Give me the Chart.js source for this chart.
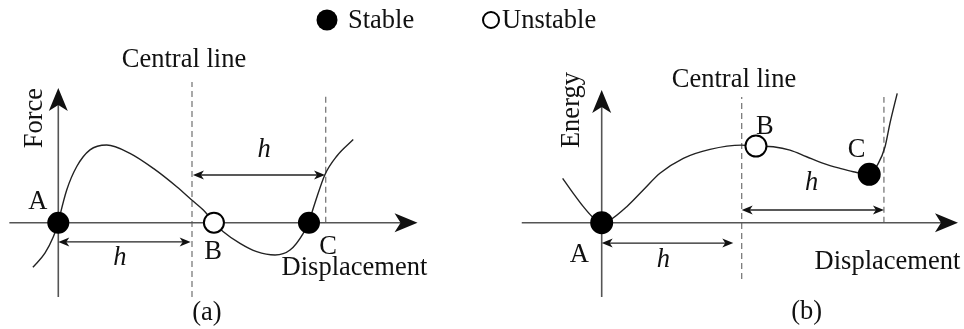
<!DOCTYPE html>
<html>
<head>
<meta charset="utf-8">
<script src="https://cdn.jsdelivr.net/npm/chart.js@4/dist/chart.umd.min.js"></script>
<style>
  html, body { margin: 0; padding: 0; background: #ffffff; }
  #wrap { position: relative; width: 964px; height: 329px; }
  canvas { display: block; }
</style>
</head>
<body>
<div id="wrap"><canvas id="c" width="964" height="329"></canvas></div>
<script>
// ---------- data (displacement in units of h) ----------
// (a) Force vs displacement
const forceX = [-0.19, -0.10, -0.037, 0, 0.013, 0.063, 0.138, 0.237, 0.362, 0.536, 0.711, 0.886, 0.998, 1.097, 1.164, 1.234, 1.359, 1.484, 1.621, 1.733, 1.832, 1.875, 1.919, 1.994, 2.082, 2.206];
const forceY = [-0.574, -0.392, -0.181, 0, 0.099, 0.421, 0.723, 0.937, 1.0, 0.893, 0.699, 0.463, 0.292, 0.141, 0, -0.116, -0.266, -0.373, -0.416, -0.352, -0.136, 0.02, 0.251, 0.618, 0.855, 1.07];
// (b) Energy vs displacement
const energyX = [-0.279, -0.203, -0.131, -0.060, 0, 0.059, 0.179, 0.297, 0.416, 0.583, 0.774, 1.0, 1.102, 1.226, 1.345, 1.464, 1.583, 1.702, 1.797, 1.911, 1.976, 2.024, 2.059, 2.111];
const energyY = [0.579, 0.383, 0.209, 0.065, 0, 0.035, 0.209, 0.426, 0.644, 0.840, 0.957, 1.012, 1.0, 0.990, 0.947, 0.860, 0.774, 0.709, 0.665, 0.630, 0.774, 0.991, 1.295, 1.687];
// equilibrium points
const pointLabels = ['A', 'B', 'C'];
const pointStable = [true, false, true];
const forcePointX = [0, 1.164, 1.875];
const forcePointY = [0, 0, 0];
const energyPointX = [0, 1.102, 1.911];
const energyPointY = [0, 1.0, 0.631];
// characteristic distance h and guide lines (displacement units)
const centralLineX = 1;
const forceEdgeX = 2.0;
const energyEdgeX = 2.016;
const legendLabels = ['Stable', 'Unstable'];
const axisTitles = { force: 'Force', energy: 'Energy', disp: 'Displacement', central: 'Central line' };
const panelTags = ['(a)', '(b)'];

// ---------- helpers ----------
const toXY = (xs, ys) => xs.map((x, i) => ({ x: x, y: ys[i] }));
const FONT = "'Liberation Serif', 'Times New Roman', serif";
const FS = 26.5;

// panel geometry in data units (axes extents, arrows, label anchors)
const panels = [
  { xs: 'xF', ys: 'yF',
    xAxis: [-0.366, 2.687], yAxis: [-0.956, 1.734],
    central: [-0.956, 1.811], edgeX: forceEdgeX, edge: [0, 1.643],
    hLow: { y: -0.248, x0: 0, x1: 0.99 }, hUp: { y: 0.614, x0: 1.007, x1: 1.995 },
    texts: [
      { t: axisTitles.central, x: 0.940, y: 2.094 },
      { t: axisTitles.force, x: -0.174, y: 1.347, rot: true },
      { t: pointLabels[0], x: -0.154, y: 0.266 },
      { t: pointLabels[1], x: 1.157, y: -0.377 },
      { t: pointLabels[2], x: 2.017, y: -0.313 },
      { t: axisTitles.disp, x: 2.215, y: -0.583 },
      { t: 'h', x: 1.539, y: 0.936, it: true },
      { t: 'h', x: 0.461, y: -0.454, it: true },
      { t: panelTags[0], x: 1.112, y: -1.162 }
    ] },
  { xs: 'xE', ys: 'yE',
    xAxis: [-0.571, 2.545], yAxis: [-0.969, 1.730],
    central: [-0.734, 1.639], edgeX: energyEdgeX, edge: [0, 1.639],
    hLow: { y: -0.265, x0: 0, x1: 0.94 }, hUp: { y: 0.166, x0: 1.0, x1: 2.016 },
    texts: [
      { t: axisTitles.central, x: 0.945, y: 1.861 },
      { t: axisTitles.energy, x: -0.214, y: 1.469, rot: true },
      { t: pointLabels[0], x: -0.160, y: -0.421 },
      { t: pointLabels[1], x: 1.166, y: 1.252 },
      { t: pointLabels[2], x: 1.821, y: 0.948 },
      { t: axisTitles.disp, x: 2.041, y: -0.508 },
      { t: 'h', x: 1.5, y: 0.514, it: true },
      { t: 'h', x: 0.44, y: -0.486, it: true },
      { t: panelTags[1], x: 1.464, y: -1.160 }
    ] }
];

function bigArrow(ctx, x, y, dir) {
  const L = 23, W = 9.5, N = 6;
  ctx.save();
  ctx.translate(x, y);
  if (dir === 'up') ctx.rotate(-Math.PI / 2);
  ctx.beginPath();
  ctx.moveTo(0, 0);
  ctx.lineTo(-L, -W);
  ctx.lineTo(-L + N, 0);
  ctx.lineTo(-L, W);
  ctx.closePath();
  ctx.fillStyle = '#111';
  ctx.fill();
  ctx.restore();
}
function smallHead(ctx, x, y, sign) {
  const L = 11, W = 4.5, N = 3;
  ctx.save();
  ctx.translate(x, y);
  ctx.scale(sign, 1);
  ctx.beginPath();
  ctx.moveTo(0, 0);
  ctx.lineTo(L, -W);
  ctx.lineTo(L - N, 0);
  ctx.lineTo(L, W);
  ctx.closePath();
  ctx.fillStyle = '#111';
  ctx.fill();
  ctx.restore();
}

const diagramPlugin = {
  id: 'diagram',
  beforeDatasetsDraw(chart) {
    const ctx = chart.ctx;
    panels.forEach(p => {
      const sx = chart.scales[p.xs], sy = chart.scales[p.ys];
      const X = v => sx.getPixelForValue(v), Y = v => sy.getPixelForValue(v);
      ctx.save();
      ctx.strokeStyle = '#7a7a7a';
      ctx.lineWidth = 1.3;
      ctx.setLineDash([6, 4]);
      ctx.beginPath();
      ctx.moveTo(X(centralLineX), Y(p.central[0]));
      ctx.lineTo(X(centralLineX), Y(p.central[1]));
      ctx.moveTo(X(p.edgeX), Y(p.edge[0]));
      ctx.lineTo(X(p.edgeX), Y(p.edge[1]));
      ctx.stroke();
      ctx.setLineDash([]);
      ctx.strokeStyle = '#555';
      ctx.lineWidth = 1.6;
      ctx.beginPath();
      ctx.moveTo(X(p.xAxis[0]), Y(0));
      ctx.lineTo(X(p.xAxis[1]) - 10, Y(0));
      ctx.moveTo(X(0), Y(p.yAxis[0]));
      ctx.lineTo(X(0), Y(p.yAxis[1]) + 10);
      ctx.stroke();
      bigArrow(ctx, X(p.xAxis[1]), Y(0), 'right');
      bigArrow(ctx, X(0), Y(p.yAxis[1]), 'up');
      ctx.strokeStyle = '#222';
      ctx.lineWidth = 1.3;
      [p.hLow, p.hUp].forEach(a => {
        const x0 = X(a.x0), x1 = X(a.x1), y = Y(a.y);
        ctx.beginPath();
        ctx.moveTo(x0 + 3, y);
        ctx.lineTo(x1 - 3, y);
        ctx.stroke();
        smallHead(ctx, x0, y, 1);
        smallHead(ctx, x1, y, -1);
      });
      ctx.restore();
    });
  },
  afterDatasetsDraw(chart) {
    const ctx = chart.ctx;
    ctx.save();
    ctx.fillStyle = '#111';
    ctx.textAlign = 'center';
    ctx.textBaseline = 'middle';
    panels.forEach(p => {
      const sx = chart.scales[p.xs], sy = chart.scales[p.ys];
      p.texts.forEach(t => {
        ctx.font = (t.it ? 'italic ' : '') + FS + 'px ' + FONT;
        const px = sx.getPixelForValue(t.x), py = sy.getPixelForValue(t.y);
        if (t.rot) {
          ctx.save();
          ctx.translate(px, py);
          ctx.rotate(-Math.PI / 2);
          ctx.fillText(t.t, 0, 0);
          ctx.restore();
        } else {
          ctx.fillText(t.t, px, py);
        }
      });
    });
    ctx.font = FS + 'px ' + FONT;
    ctx.textAlign = 'left';
    const ly = 20;
    ctx.beginPath();
    ctx.arc(327, ly, 10.5, 0, Math.PI * 2);
    ctx.fillStyle = '#000';
    ctx.fill();
    ctx.fillStyle = '#111';
    ctx.fillText(legendLabels[0], 348, ly + 1);
    ctx.beginPath();
    ctx.arc(491, ly, 8, 0, Math.PI * 2);
    ctx.lineWidth = 2;
    ctx.strokeStyle = '#000';
    ctx.stroke();
    ctx.fillText(legendLabels[1], 502, ly + 1);
    ctx.restore();
  }
};

const pointStyleColors = pointStable.map(s => s ? '#000' : '#fff');

new Chart(document.getElementById('c'), {
  type: 'line',
  data: {
    datasets: [
      { label: 'force points', data: toXY(forcePointX, forcePointY), xAxisID: 'xF', yAxisID: 'yF',
        showLine: false, pointRadius: 10, pointBackgroundColor: pointStyleColors,
        pointBorderColor: '#000', pointBorderWidth: 2, order: 0 },
      { label: 'energy points', data: toXY(energyPointX, energyPointY), xAxisID: 'xE', yAxisID: 'yE',
        showLine: false, pointRadius: 10.5, pointBackgroundColor: pointStyleColors,
        pointBorderColor: '#000', pointBorderWidth: 2, order: 0 },
      { label: 'Force', data: toXY(forceX, forceY), xAxisID: 'xF', yAxisID: 'yF',
        borderColor: '#222', borderWidth: 1.4, pointRadius: 0, fill: false,
        cubicInterpolationMode: 'monotone', order: 1 },
      { label: 'Energy', data: toXY(energyX, energyY), xAxisID: 'xE', yAxisID: 'yE',
        borderColor: '#222', borderWidth: 1.4, pointRadius: 0, fill: false,
        cubicInterpolationMode: 'monotone', order: 1 }
    ]
  },
  options: {
    responsive: false,
    animation: false,
    devicePixelRatio: 1,
    layout: { padding: 0, autoPadding: false },
    plugins: { legend: { display: false }, tooltip: { enabled: false } },
    events: [],
    scales: {
      xF: { type: 'linear', display: false, min: -0.436, max: 6.774 },
      yF: { type: 'linear', display: false, min: -1.368, max: 2.866 },
      xE: { type: 'linear', display: false, min: -4.298, max: 2.588 },
      yE: { type: 'linear', display: false, min: -1.386, max: 2.904 }
    }
  },
  plugins: [diagramPlugin]
});
</script>
</body>
</html>
